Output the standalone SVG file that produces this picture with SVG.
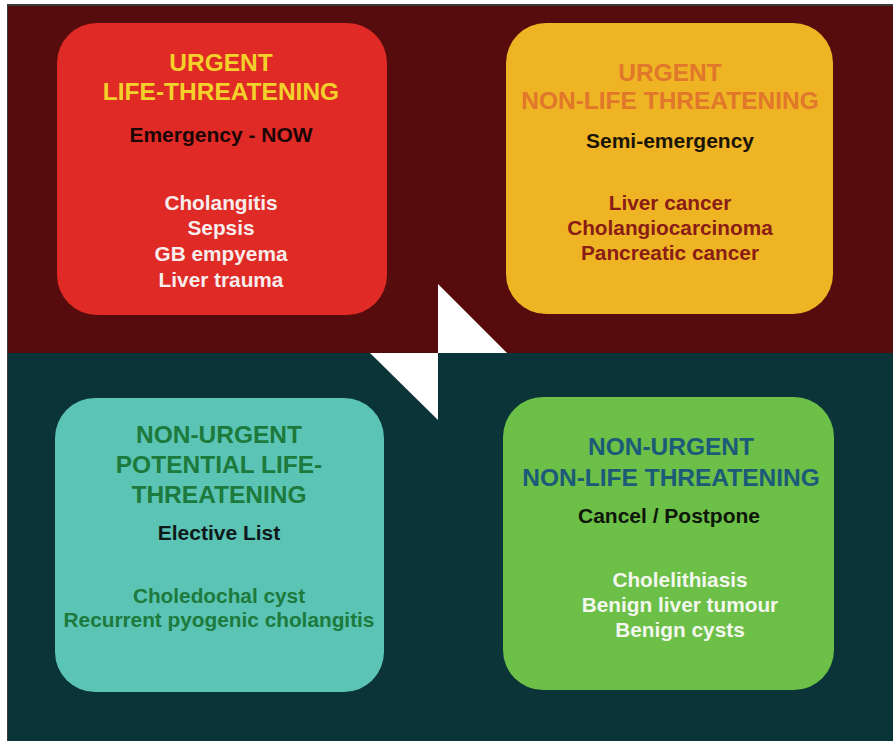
<svg xmlns="http://www.w3.org/2000/svg" width="893" height="741" viewBox="0 0 893 741">
<style>
text{font-family:"Liberation Sans",Arial,Helvetica,sans-serif;font-weight:bold;text-anchor:middle}
.t{font-size:24.5px}
.s{font-size:21px}
.i{font-size:20.8px}
</style>
<rect x="0" y="0" width="893" height="741" fill="#ffffff"/>
<rect x="7" y="4" width="886" height="737" fill="#3a3a3a"/>
<rect x="8" y="6" width="885" height="348" fill="#560c0c"/>
<rect x="8" y="353" width="885" height="388" fill="#0b3438"/>
<g id="arrows" fill="#ffffff">
<polygon points="438,284 438,353 507,353"/>
<polygon points="370,353 438,353 438,420"/>
</g>
<g id="urgent-life">
<rect x="57" y="23" width="330" height="292" rx="40" fill="#e02a25"/>
<text class="t" x="221" y="71" fill="#f3d12b">URGENT</text>
<text class="t" x="221" y="100" fill="#f3d12b">LIFE-THREATENING</text>
<text class="s" x="221" y="142" fill="#1a0606">Emergency - NOW</text>
<text class="i" x="221" y="210" fill="#f7eded">Cholangitis</text>
<text class="i" x="221" y="235" fill="#f7eded">Sepsis</text>
<text class="i" x="221" y="261" fill="#f7eded">GB empyema</text>
<text class="i" x="221" y="287" fill="#f7eded">Liver trauma</text>
</g>
<g id="urgent-nonlife">
<rect x="506" y="23" width="327" height="291" rx="40" fill="#efb423"/>
<text class="t" x="670" y="81" fill="#e0772b">URGENT</text>
<text class="t" x="670" y="109" fill="#e0772b">NON-LIFE THREATENING</text>
<text class="s" x="670" y="148" fill="#1a1408">Semi-emergency</text>
<text class="i" x="670" y="210" fill="#8a1c16">Liver cancer</text>
<text class="i" x="670" y="235" fill="#8a1c16">Cholangiocarcinoma</text>
<text class="i" x="670" y="260" fill="#8a1c16">Pancreatic cancer</text>
</g>
<g id="nonurgent-potential">
<rect x="55" y="398" width="329" height="294" rx="40" fill="#5bc4b5"/>
<text class="t" x="219" y="443" fill="#1c7a3c">NON-URGENT</text>
<text class="t" x="219" y="473" fill="#1c7a3c">POTENTIAL LIFE-</text>
<text class="t" x="219" y="503" fill="#1c7a3c">THREATENING</text>
<text class="s" x="219" y="540" fill="#0e1a1a">Elective List</text>
<text class="i" x="219" y="603" fill="#1c7a3c">Choledochal cyst</text>
<text class="i" x="219" y="627" fill="#1c7a3c">Recurrent pyogenic cholangitis</text>
</g>
<g id="nonurgent-nonlife">
<rect x="503" y="397" width="331" height="293" rx="40" fill="#6cbf47"/>
<text class="t" x="671" y="455" fill="#1b5a78">NON-URGENT</text>
<text class="t" x="671" y="486" fill="#1b5a78">NON-LIFE THREATENING</text>
<text class="s" x="669" y="523" fill="#0e160a">Cancel / Postpone</text>
<text class="i" x="680" y="587" fill="#f3f7ee">Cholelithiasis</text>
<text class="i" x="680" y="612" fill="#f3f7ee">Benign liver tumour</text>
<text class="i" x="680" y="637" fill="#f3f7ee">Benign cysts</text>
</g>
</svg>
